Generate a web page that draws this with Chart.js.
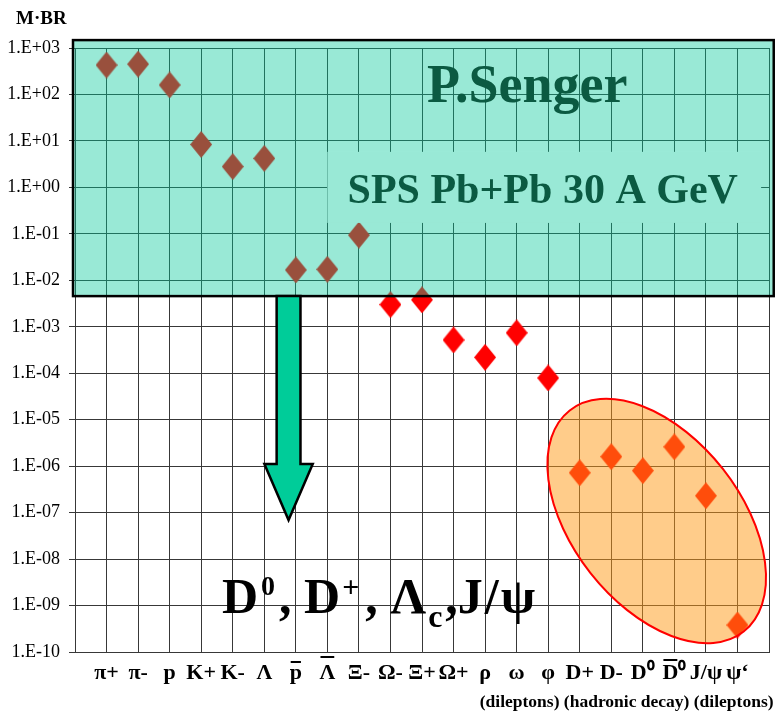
<!DOCTYPE html>
<html>
<head>
<meta charset="utf-8">
<script src="https://cdn.jsdelivr.net/npm/chart.js@4.4.1/dist/chart.umd.min.js"></script>
<style>
  html, body { margin: 0; padding: 0; background: #fff; }
  #wrap { width: 781px; height: 715px; }
</style>
</head>
<body>
<div id="wrap"><canvas id="mbrChart"></canvas></div>
<script>
// particle species along the x axis (\u0305 = bar over the first letter)
const categories = ['π+', 'π-', 'p', 'K+', 'K-', 'Λ', 'p\u0305', 'Λ\u0305', 'Ξ-', 'Ω-', 'Ξ+', 'Ω+',
  'ρ', 'ω', 'φ', 'D+', 'D-', 'D\u2070', 'D\u0305\u2070', 'J/ψ', 'ψ\u2018'];
// multiplicity x branching ratio
const mbrValues = [430, 450, 160, 8.4, 2.8, 4.2, 0.0167, 0.0172, 0.094, 0.0030, 0.0038, 5.2e-4,
  2.2e-4, 7.4e-4, 7.9e-5, 7.2e-7, 1.6e-6, 8.0e-7, 2.6e-6, 2.3e-7, 3.8e-10];
const yTicks = [1e3, 1e2, 1e1, 1e0, 1e-1, 1e-2, 1e-3, 1e-4, 1e-5, 1e-6, 1e-7, 1e-8, 1e-9, 1e-10];
const yTickLabels = ['1.E+03', '1.E+02', '1.E+01', '1.E+00', '1.E-01', '1.E-02', '1.E-03',
  '1.E-04', '1.E-05', '1.E-06', '1.E-07', '1.E-08', '1.E-09', '1.E-10'];
const groupNotes = ['(dileptons)', '(hadronic decay)', '(dileptons)'];

const SERIF = '"Liberation Serif", "Times New Roman", serif';
const GRID = '#383838';
const XFONT = { family: SERIF, size: 22, weight: 'bold' };

// empty slot at each end so points sit on grid lines
const xLabels = [''].concat(categories, ['']);
const yData = [null].concat(mbrValues, [null]);

function diamond(w, h, color) {
  const c = document.createElement('canvas');
  c.width = w; c.height = h;
  const g = c.getContext('2d');
  g.fillStyle = color;
  g.beginPath();
  g.moveTo(w / 2, 0); g.lineTo(w, h / 2); g.lineTo(w / 2, h); g.lineTo(0, h / 2);
  g.closePath();
  g.fill();
  return c;
}

const decorations = {
  id: 'decorations',
  afterDatasetsDraw(chart) {
    const { ctx, chartArea: area, scales: { x, y } } = chart;
    const px = u => x.getPixelForValue(u);
    const py = e => y.getPixelForValue(Math.pow(10, e));
    const unit = px(1) - px(0);

    ctx.save();
    // teal box over the measured region
    const bx0 = area.left - 2, bx1 = px(22.15), by0 = py(3.17), by1 = py(-2.34);
    ctx.fillStyle = 'rgba(0,200,152,0.4)';
    ctx.fillRect(bx0, by0, bx1 - bx0, by1 - by0);
    ctx.fillStyle = '#99E9D6';
    ctx.fillRect(px(8.0), py(0.765), px(21.75) - px(8.0), py(-0.765) - py(0.765));
    ctx.strokeStyle = '#000';
    ctx.lineWidth = 2.5;
    ctx.strokeRect(bx0, by0, bx1 - bx0, by1 - by0);

    ctx.fillStyle = '#0B5A42';
    ctx.textBaseline = 'alphabetic';
    ctx.textAlign = 'left';
    ctx.font = 'bold 54px ' + SERIF;
    ctx.fillText('P.Senger', px(11.16), py(1.84));
    ctx.font = 'bold 42px ' + SERIF;
    ctx.fillText('SPS Pb+Pb 30 A GeV', px(8.64), py(-0.336));

    // arrow pointing down from the box
    const ac = px(6.77), sw = 0.378 * unit, hw = 0.766 * unit;
    const ay0 = by1, ay1 = py(-5.954), tip = py(-7.159);
    ctx.beginPath();
    ctx.moveTo(ac - sw, ay0);
    ctx.lineTo(ac - sw, ay1);
    ctx.lineTo(ac - hw, ay1);
    ctx.lineTo(ac, tip);
    ctx.lineTo(ac + hw, ay1);
    ctx.lineTo(ac + sw, ay1);
    ctx.lineTo(ac + sw, ay0);
    ctx.closePath();
    ctx.fillStyle = '#00CC99';
    ctx.fill();
    ctx.lineWidth = 2.5;
    ctx.strokeStyle = '#000';
    ctx.stroke();

    // orange ellipse around the charm points
    ctx.beginPath();
    ctx.ellipse(px(18.44), py(-7.18), 4.46 * unit, 2.67 * unit, 51.8 * Math.PI / 180, 0, Math.PI * 2);
    ctx.fillStyle = 'rgba(255,154,22,0.5)';
    ctx.fill();
    ctx.lineWidth = 2;
    ctx.strokeStyle = '#FF0000';
    ctx.stroke();

    // big label: [text, size, dy, gap before]
    const runs = [
      ['D', 50, 0, 0], ['0', 28, -18, 3], [',', 50, 0, 4], [' D', 50, 0, 0],
      ['+', 30, -16, 2], [',', 50, 0, 6], [' Λ', 50, 0, 0], ['c', 32, 14, 2],
      [',', 50, 0, 3], ['J', 50, 0, 0], ['/', 50, 0, 2], ['ψ', 50, 0, 2]
    ];
    let tx = px(4.66);
    const base = py(-9.16);
    ctx.fillStyle = '#000';
    runs.forEach(([t, size, dy, gap]) => {
      ctx.font = 'bold ' + size + 'px ' + SERIF;
      tx += gap;
      ctx.fillText(t, tx, base + dy);
      tx += ctx.measureText(t).width;
    });
    ctx.restore();
  },
  afterDraw(chart) {
    const { ctx, chartArea: area, scales: { x } } = chart;
    ctx.save();
    ctx.fillStyle = '#000';
    ctx.textAlign = 'left';
    ctx.textBaseline = 'alphabetic';
    ctx.font = 'bold 19px ' + SERIF;
    ctx.fillText('M\u00B7BR', 16, 24);

    // bars over antiparticle labels
    ctx.font = 'bold ' + XFONT.size + 'px ' + SERIF;
    ctx.strokeStyle = '#000';
    ctx.lineWidth = 2;
    xLabels.forEach((lab, i) => {
      if (lab.indexOf('\u0305') < 0) return;
      const shown = lab.replace('\u0305', '');
      const w = ctx.measureText(shown).width;
      const cw = ctx.measureText(shown[0]).width;
      const left = x.getPixelForValue(i) - w / 2;
      const by = area.bottom + (shown[0] === 'p' ? 10 : shown[0] === 'Λ' ? 5 : 8);
      ctx.beginPath();
      ctx.moveTo(left + 1, by);
      ctx.lineTo(left + cw - 1, by);
      ctx.stroke();
    });

    ctx.font = 'bold 17.5px ' + SERIF;
    ctx.textBaseline = 'middle';
    ctx.fillText(groupNotes.join(' '), x.getPixelForValue(12.83), area.bottom + 50);
    ctx.restore();
  }
};

Chart.register(decorations);

new Chart(document.getElementById('mbrChart').getContext('2d'), {
  type: 'line',
  data: {
    labels: xLabels,
    datasets: [{
      label: 'M·BR',
      data: yData,
      showLine: false,
      pointStyle: diamond(22, 27, '#FF0000'),
      pointRadius: 11,
      pointHoverRadius: 11
    }]
  },
  options: {
    responsive: true,
    maintainAspectRatio: false,
    animation: false,
    devicePixelRatio: 1,
    layout: { padding: { top: 48, right: 8, left: 0, bottom: 0 } },
    plugins: {
      legend: { display: false },
      tooltip: { enabled: false }
    },
    scales: {
      x: {
        type: 'category',
        offset: false,
        grid: { color: GRID, drawTicks: false },
        border: { color: GRID },
        ticks: {
          autoSkip: false,
          maxRotation: 0,
          minRotation: 0,
          padding: 8,
          color: '#000',
          font: XFONT,
          callback: (v, i) => xLabels[i].replace('\u0305', '')
        },
        afterFit(s) { s.height = 63; }
      },
      y: {
        type: 'logarithmic',
        min: 1e-10,
        max: 1e3,
        grid: { color: GRID, tickLength: 6 },
        border: { color: GRID },
        afterBuildTicks(s) { s.ticks = yTicks.map(v => ({ value: v })); },
        ticks: {
          padding: 9,
          color: '#000',
          font: { family: SERIF, size: 18 },
          callback: v => yTickLabels[3 - Math.round(Math.log10(v))]
        },
        afterFit(s) { s.width = 75; }
      }
    }
  }
});
</script>
</body>
</html>
